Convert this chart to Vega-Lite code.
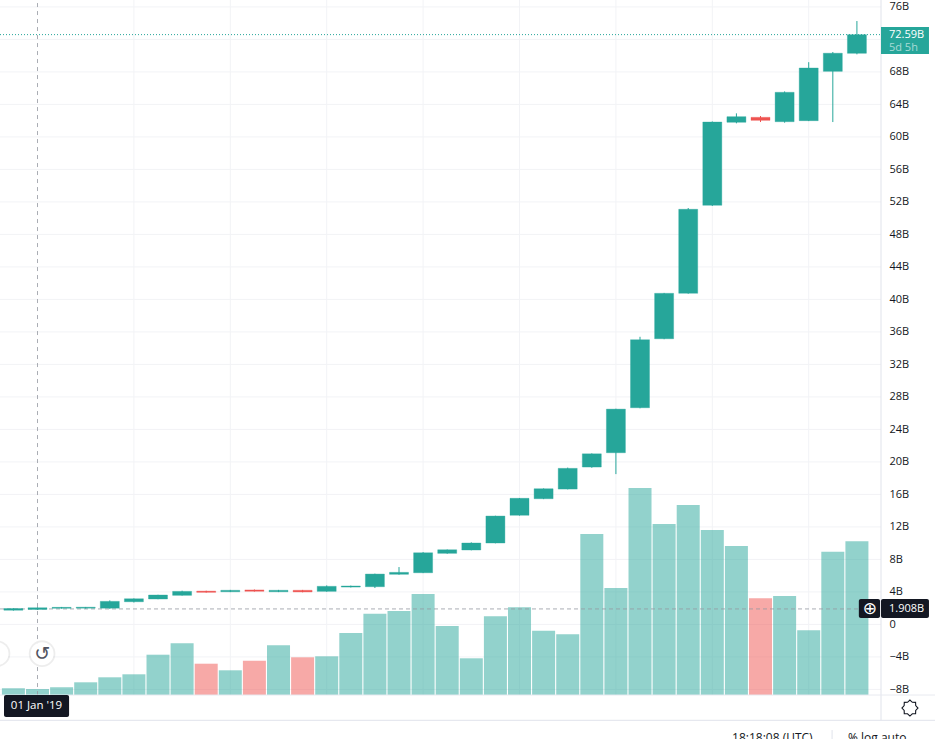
{
"$schema":"https://vega.github.io/schema/vega-lite/v6.json",
"width":935,"height":739,"padding":0,"autosize":{"type":"none"},"background":"#ffffff",
"config":{"view":{"stroke":null},"text":{"font":"Open Sans"},"axis":{"labelFont":"Open Sans"}},
"datasets":{
"ohlc":[
{"month":"2018-12","i":-1,"open":1.75,"high":2.0,"low":1.7,"close":1.95,"volume":6.7,"dir":"up"},
{"month":"2019-01","i":0,"open":1.85,"high":2.1,"low":1.8,"close":2.05,"volume":6,"dir":"up"},
{"month":"2019-02","i":1,"open":1.98,"high":2.15,"low":1.95,"close":2.1,"volume":7.7,"dir":"up"},
{"month":"2019-03","i":2,"open":2.0,"high":2.15,"low":1.95,"close":2.12,"volume":12.7,"dir":"up"},
{"month":"2019-04","i":3,"open":2.0,"high":2.96,"low":1.93,"close":2.84,"volume":17.7,"dir":"up"},
{"month":"2019-05","i":4,"open":2.79,"high":3.2,"low":2.7,"close":3.16,"volume":20.7,"dir":"up"},
{"month":"2019-06","i":5,"open":3.13,"high":3.65,"low":3.1,"close":3.62,"volume":40.3,"dir":"up"},
{"month":"2019-07","i":6,"open":3.58,"high":4.15,"low":3.55,"close":4.07,"volume":51.7,"dir":"up"},
{"month":"2019-08","i":7,"open":4.1,"high":4.15,"low":3.92,"close":3.95,"volume":31.3,"dir":"down"},
{"month":"2019-09","i":8,"open":4.02,"high":4.25,"low":3.98,"close":4.2,"volume":24.7,"dir":"up"},
{"month":"2019-10","i":9,"open":4.25,"high":4.3,"low":4.04,"close":4.07,"volume":34.3,"dir":"down"},
{"month":"2019-11","i":10,"open":4.02,"high":4.25,"low":3.98,"close":4.2,"volume":49.7,"dir":"up"},
{"month":"2019-12","i":11,"open":4.2,"high":4.25,"low":3.95,"close":4.0,"volume":37.7,"dir":"down"},
{"month":"2020-01","i":12,"open":4.07,"high":4.8,"low":4.03,"close":4.69,"volume":38.7,"dir":"up"},
{"month":"2020-02","i":13,"open":4.6,"high":4.78,"low":4.55,"close":4.73,"volume":62,"dir":"up"},
{"month":"2020-03","i":14,"open":4.64,"high":6.25,"low":4.48,"close":6.2,"volume":81.3,"dir":"up"},
{"month":"2020-04","i":15,"open":6.17,"high":7.06,"low":6.12,"close":6.41,"volume":84,"dir":"up"},
{"month":"2020-05","i":16,"open":6.36,"high":8.9,"low":6.32,"close":8.82,"volume":101,"dir":"up"},
{"month":"2020-06","i":17,"open":8.75,"high":9.22,"low":8.7,"close":9.19,"volume":69,"dir":"up"},
{"month":"2020-07","i":18,"open":9.16,"high":10.1,"low":9.12,"close":10.02,"volume":36.7,"dir":"up"},
{"month":"2020-08","i":19,"open":10.02,"high":13.38,"low":9.98,"close":13.34,"volume":78.7,"dir":"up"},
{"month":"2020-09","i":20,"open":13.43,"high":15.56,"low":13.4,"close":15.52,"volume":87.7,"dir":"up"},
{"month":"2020-10","i":21,"open":15.47,"high":16.74,"low":15.42,"close":16.7,"volume":64.3,"dir":"up"},
{"month":"2020-11","i":22,"open":16.66,"high":19.3,"low":16.62,"close":19.21,"volume":60.7,"dir":"up"},
{"month":"2020-12","i":23,"open":19.37,"high":21.05,"low":19.28,"close":21.0,"volume":161,"dir":"up"},
{"month":"2021-01","i":24,"open":21.13,"high":26.55,"low":18.5,"close":26.5,"volume":107,"dir":"up"},
{"month":"2021-02","i":25,"open":26.67,"high":35.4,"low":26.6,"close":35.04,"volume":207,"dir":"up"},
{"month":"2021-03","i":26,"open":35.16,"high":40.8,"low":35.1,"close":40.75,"volume":171,"dir":"up"},
{"month":"2021-04","i":27,"open":40.75,"high":51.25,"low":40.7,"close":51.09,"volume":190,"dir":"up"},
{"month":"2021-05","i":28,"open":51.58,"high":61.9,"low":51.5,"close":61.83,"volume":165,"dir":"up"},
{"month":"2021-06","i":29,"open":61.8,"high":62.9,"low":61.67,"close":62.49,"volume":149,"dir":"up"},
{"month":"2021-07","i":30,"open":62.41,"high":62.57,"low":61.83,"close":62.04,"volume":96.7,"dir":"down"},
{"month":"2021-08","i":31,"open":61.87,"high":65.6,"low":61.75,"close":65.49,"volume":99,"dir":"up"},
{"month":"2021-09","i":32,"open":62.0,"high":69.2,"low":61.95,"close":68.48,"volume":64.7,"dir":"up"},
{"month":"2021-10","i":33,"open":68.07,"high":70.45,"low":61.83,"close":70.3,"volume":143.3,"dir":"up"},
{"month":"2021-11","i":34,"open":70.29,"high":74.26,"low":70.16,"close":72.58,"volume":153.7,"dir":"up"}
],
"vgrid":[{"i":4},{"i":8},{"i":12},{"i":16},{"i":20},{"i":24},{"i":28},{"i":32}],
"hgrid":[{"v":-8},{"v":-4},{"v":0},{"v":4},{"v":8},{"v":12},{"v":16},{"v":20},{"v":24},{"v":28},{"v":32},{"v":36},{"v":40},{"v":44},{"v":48},{"v":52},{"v":56},{"v":60},{"v":64},{"v":68},{"v":72},{"v":76}],
"one":[{"k":1}]
},
"resolve":{"scale":{"y":"independent"},"axis":{"y":"independent"}},
"layer":[
{"layer":[
{"data":{"name":"vgrid"},"mark":{"type":"rule","color":"#f2f3f6","strokeWidth":1},
 "encoding":{"x":{"field":"i","type":"quantitative","scale":{"domain":[-1.556,37.24],"nice":false,"zero":false,"padding":0},"axis":null},
 "y":{"datum":-8.69,"type":"quantitative","scale":{"domain":[-14.1,76.85],"nice":false,"zero":false},"axis":null},"y2":{"datum":76.85}}},
{"data":{"name":"hgrid"},"mark":{"type":"rule","color":"#f2f3f6","strokeWidth":1},
 "encoding":{"y":{"field":"v","type":"quantitative","axis":null},"x":{"datum":-1.556,"type":"quantitative","axis":null},"x2":{"datum":35.0}}}
]},
{"data":{"name":"ohlc"},"mark":{"type":"bar","size":23,"orient":"vertical","opacity":0.5},
 "encoding":{"x":{"field":"i","type":"quantitative","scale":{"padding":0},"axis":null},
 "y":{"field":"volume","type":"quantitative","scale":{"domain":[-44,695],"nice":false,"zero":false},"axis":null},"y2":{"datum":0},
 "color":{"field":"dir","type":"nominal","scale":{"domain":["up","down"],"range":["#26a69a","#ef5350"]},"legend":null}}},
{"layer":[
{"data":{"name":"one"},"mark":{"type":"rule","color":"#9598a1","strokeWidth":1,"strokeDash":[4,3],"opacity":0.8},
 "encoding":{"y":{"datum":1.908,"type":"quantitative","scale":{"domain":[-14.1,76.85],"nice":false,"zero":false},
   "axis":{"orient":"right","offset":-54,"title":null,"tickCount":40,"values":[-8,-4,0,4,8,12,16,20,24,28,32,36,40,44,48,52,56,60,64,68,76],"labelExpr":"datum.value==0?'0':(datum.value<0?'\u2212'+abs(datum.value):datum.value)+'B'","tickSize":0,"domain":false,"grid":false,"labelPadding":8,"labelFontSize":11,"labelColor":"#131722","labelOverlap":false,"labelBound":false,"labelFlush":false}},
  "x":{"datum":-1.556,"type":"quantitative",
   "axis":{"orient":"bottom","offset":-44,"title":null,"tickCount":40,"values":[4,8,12,16,20,24,28,32],"labelExpr":"datum.value==12?'2020':datum.value==24?'2021':(datum.value%8==4?'May':'Sep')","tickSize":0,"domain":false,"grid":false,"labelPadding":6,"labelFontSize":11.5,"labelColor":"#131722","labelOverlap":false,"labelFontWeight":{"condition":{"test":"datum.value==12||datum.value==24","value":"bold"},"value":"normal"}}},"x2":{"datum":35.0}}},
{"data":{"name":"one"},"mark":{"type":"rule","color":"#9598a1","strokeWidth":1,"strokeDash":[4,4],"opacity":0.8},
 "encoding":{"x":{"datum":0,"type":"quantitative"},"y":{"datum":-8.69,"type":"quantitative"},"y2":{"datum":76.85}}},
{"data":{"name":"one"},"mark":{"type":"rule","color":"#26a69a","strokeWidth":1,"strokeDash":[1,2]},
 "encoding":{"y":{"datum":72.59,"type":"quantitative"},"x":{"datum":-1.556,"type":"quantitative"},"x2":{"datum":35.0}}},
{"data":{"name":"ohlc"},"mark":{"type":"rule","strokeWidth":1},
 "encoding":{"x":{"field":"i","type":"quantitative"},"y":{"field":"low","type":"quantitative"},"y2":{"field":"high"},
 "color":{"field":"dir","type":"nominal","scale":{"domain":["up","down"],"range":["#26a69a","#ef5350"]},"legend":null}}},
{"data":{"name":"ohlc"},"mark":{"type":"bar","size":19,"orient":"vertical","strokeWidth":0.7,"strokeOpacity":0.5},
 "encoding":{"x":{"field":"i","type":"quantitative","scale":{"padding":0}},"y":{"field":"open","type":"quantitative"},"y2":{"field":"close"},
 "color":{"field":"dir","type":"nominal","scale":{"domain":["up","down"],"range":["#26a69a","#ef5350"]},"legend":null},
 "stroke":{"field":"dir","type":"nominal","scale":{"domain":["up","down"],"range":["#26a69a","#ef5350"]},"legend":null}}},
{"data":{"name":"one"},"mark":{"type":"rule","color":"#e0e3eb","strokeWidth":1},
 "encoding":{"x":{"datum":35.0,"type":"quantitative"},"y":{"datum":-11.8,"type":"quantitative"},"y2":{"datum":76.85}}},
{"data":{"name":"one"},"mark":{"type":"rule","color":"#e8eaf0","strokeWidth":1},
 "encoding":{"y":{"datum":-8.69,"type":"quantitative"},"x":{"datum":-1.556,"type":"quantitative"},"x2":{"datum":37.24}}},
{"data":{"name":"one"},"mark":{"type":"rule","color":"#e0e3eb","strokeWidth":1},
 "encoding":{"y":{"datum":-11.8,"type":"quantitative"},"x":{"datum":-1.556,"type":"quantitative"},"x2":{"datum":37.24}}},
{"data":{"name":"one"},"mark":{"type":"rule","color":"#e0e3eb","strokeWidth":1},
 "encoding":{"x":{"datum":32.97,"type":"quantitative"},"y":{"datum":-13.0,"type":"quantitative"},"y2":{"datum":-14.1}}},
{"data":{"name":"one"},"mark":{"type":"rect","color":"#26a69a"},
 "encoding":{"x":{"datum":35.0,"type":"quantitative"},"x2":{"datum":36.99},"y":{"datum":73.53,"type":"quantitative"},"y2":{"datum":70.2}}},
{"data":{"name":"one"},"mark":{"type":"rect","color":"#131722","cornerRadius":2},
 "encoding":{"x":{"datum":35.0,"type":"quantitative"},"x2":{"datum":36.99},"y":{"datum":3.13,"type":"quantitative"},"y2":{"datum":0.79}}},
{"data":{"name":"one"},"mark":{"type":"rect","color":"#131722","cornerRadius":2},
 "encoding":{"x":{"datum":34.08,"type":"quantitative"},"x2":{"datum":34.96},"y":{"datum":3.13,"type":"quantitative"},"y2":{"datum":0.79}}},
{"data":{"name":"one"},"mark":{"type":"rect","color":"#131722","cornerRadius":2},
 "encoding":{"x":{"datum":-1.39,"type":"quantitative"},"x2":{"datum":1.31},"y":{"datum":-8.69,"type":"quantitative"},"y2":{"datum":-11.4}}},
{"data":{"name":"one"},"mark":{"type":"point","shape":"circle","filled":true,"color":"#000000","opacity":0.07,"size":710},
 "encoding":{"x":{"datum":0.19,"type":"quantitative"},"y":{"datum":-3.6,"type":"quantitative"}}},
{"data":{"name":"one"},"mark":{"type":"point","shape":"circle","filled":true,"color":"#ffffff","opacity":1,"size":531},
 "encoding":{"x":{"datum":0.19,"type":"quantitative"},"y":{"datum":-3.6,"type":"quantitative"}}},
{"data":{"name":"one"},"mark":{"type":"point","shape":"circle","filled":true,"color":"#000000","opacity":0.07,"size":710},
 "encoding":{"x":{"datum":-1.68,"type":"quantitative"},"y":{"datum":-3.6,"type":"quantitative"}}},
{"data":{"name":"one"},"mark":{"type":"point","shape":"circle","filled":true,"color":"#ffffff","opacity":1,"size":531},
 "encoding":{"x":{"datum":-1.68,"type":"quantitative"},"y":{"datum":-3.6,"type":"quantitative"}}},
{"data":{"values":[{"label":"\u21ba"}]},"mark":{"type":"text","font":"DejaVu Sans","fontSize":19,"color":"#50535e"},
 "encoding":{"text":{"field":"label"},"x":{"datum":0.19,"type":"quantitative"},"y":{"datum":-3.7,"type":"quantitative"}}},
{"data":{"values":[{"label":"\u2295"}]},"mark":{"type":"text","font":"DejaVu Sans","fontSize":17,"color":"#ffffff"},
 "encoding":{"text":{"field":"label"},"x":{"datum":34.54,"type":"quantitative"},"y":{"datum":1.95,"type":"quantitative"}}},
{"data":{"name":"one"},"mark":{"type":"point","shape":"M1 0L.72 .3L.707 .707L.3 .72L0 1L-.3 .72L-.707 .707L-.72 .3L-1 0L-.72 -.3L-.707 -.707L-.3 -.72L0 -1L.3 -.72L.707 -.707L.72 -.3Z","filled":false,"stroke":"#131722","strokeWidth":1.1,"opacity":1,"size":256},
 "encoding":{"x":{"datum":36.2,"type":"quantitative"},"y":{"datum":-10.29,"type":"quantitative"}}},
{"data":{"values":[{"label":"72.59B"}]},"mark":{"type":"text","align":"left","fontSize":11,"color":"#ffffff"},
 "encoding":{"text":{"field":"label"},"x":{"datum":35.33,"type":"quantitative"},"y":{"datum":72.6,"type":"quantitative"}}},
{"data":{"values":[{"label":"5d 5h"}]},"mark":{"type":"text","align":"left","fontSize":11,"color":"#a8dbd6"},
 "encoding":{"text":{"field":"label"},"x":{"datum":35.33,"type":"quantitative"},"y":{"datum":70.9,"type":"quantitative"}}},
{"data":{"values":[{"label":"1.908B"}]},"mark":{"type":"text","align":"left","fontSize":11,"color":"#ffffff"},
 "encoding":{"text":{"field":"label"},"x":{"datum":35.33,"type":"quantitative"},"y":{"datum":1.93,"type":"quantitative"}}},
{"data":{"values":[{"label":"01 Jan '19"}]},"mark":{"type":"text","align":"center","fontSize":11.5,"color":"#ffffff"},
 "encoding":{"text":{"field":"label"},"x":{"datum":-0.04,"type":"quantitative"},"y":{"datum":-10.1,"type":"quantitative"}}},
{"data":{"values":[{"label":"18:18:08 (UTC)"}]},"mark":{"type":"text","align":"left","fontSize":12,"color":"#131722"},
 "encoding":{"text":{"field":"label"},"x":{"datum":28.82,"type":"quantitative"},"y":{"datum":-14.0,"type":"quantitative"}}},
{"data":{"values":[{"label":"% log auto"}]},"mark":{"type":"text","align":"left","fontSize":12,"color":"#131722"},
 "encoding":{"text":{"field":"label"},"x":{"datum":33.63,"type":"quantitative"},"y":{"datum":-14.0,"type":"quantitative"}}}
]}
]
}
